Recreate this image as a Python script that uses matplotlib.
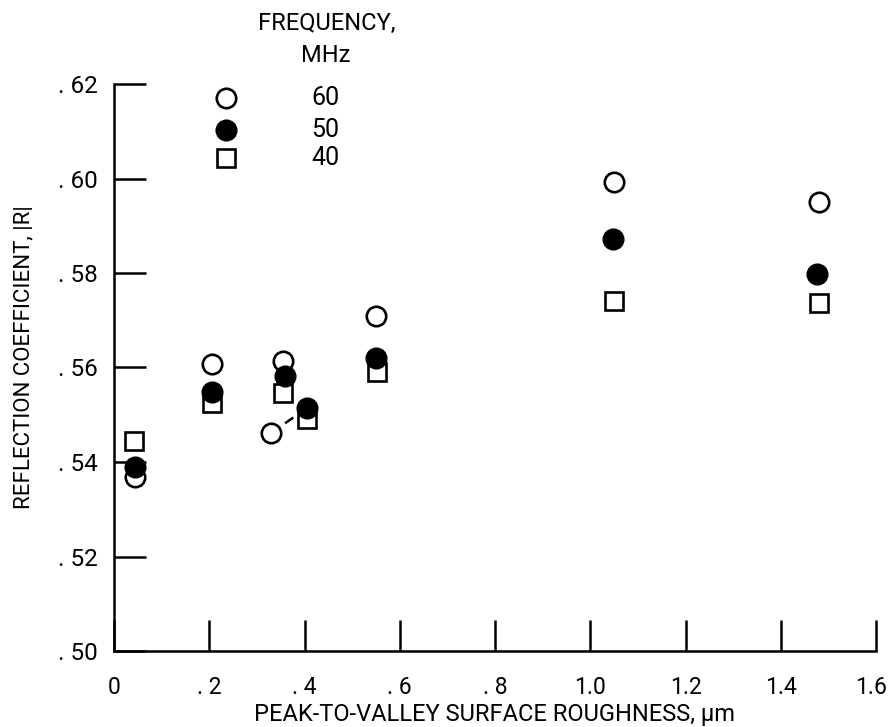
import matplotlib
matplotlib.use("Agg")
import matplotlib.pyplot as plt
import matplotlib.transforms as mtransforms

plt.rcParams['font.family'] = ['Roboto', 'DejaVu Sans']

# Data: peak-to-valley roughness (um) and reflection coefficient |R|
x_60 = [0.045, 0.205, 0.355, 0.550, 1.050, 1.480]
r_60 = [0.5368, 0.5607, 0.5614, 0.5709, 0.5993, 0.5950]
x_50 = [0.045, 0.205, 0.360, 0.405, 0.550, 1.048, 1.476]
r_50 = [0.5389, 0.5548, 0.5582, 0.5514, 0.5620, 0.5872, 0.5798]
x_40 = [0.043, 0.205, 0.355, 0.405, 0.552, 1.050, 1.480]
r_40 = [0.5444, 0.5525, 0.5546, 0.5491, 0.5590, 0.5741, 0.5737]
# 60 MHz point at 0.405 um, displaced for clarity with leader line
x_60_off = 0.329
r_60_off = 0.5461
x_60_true = 0.405
r_60_true = 0.5514

x_ticks = [0, 0.2, 0.4, 0.6, 0.8, 1.0, 1.2, 1.4, 1.6]
x_ticklabels = ['0', '. 2', '. 4', '. 6', '. 8', '1.0', '1.2', '1.4', '1.6']
y_ticks = [0.50, 0.52, 0.54, 0.56, 0.58, 0.60, 0.62]
y_ticklabels = ['. 50', '. 52', '. 54', '. 56', '. 58', '. 60', '. 62']

legend_labels = ['60', '50', '40']
legend_y = [0.6170, 0.6103, 0.6043]
legend_x = 0.235
legend_text_x = 0.443

fig = plt.figure(figsize=(8.89, 7.27), dpi=100)
ax = fig.add_axes([114/889, 1-651/727, (876-114)/889, (651-84)/727])
ax.set_xlim(0, 1.6)
ax.set_ylim(0.50, 0.62)

ms = 14
mew = 1.9
ax.plot(x_60, r_60, 'o', ms=ms, mfc='white', mec='black', mew=mew, clip_on=False, zorder=3)
ax.plot(x_50, r_50, 'o', ms=ms, mfc='black', mec='black', mew=mew, clip_on=False, zorder=4)
ax.plot(x_40, r_40, 's', ms=12.5, mfc='white', mec='black', mew=mew, clip_on=False, zorder=2)
ax.plot([x_60_off], [r_60_off], 'o', ms=ms, mfc='white', mec='black', mew=mew, zorder=3)
ax.plot([x_60_off, x_60_true], [r_60_off, r_60_true], color='black', lw=1.8,
        dashes=(4, 3), zorder=1)

# legend
ax.plot([legend_x], [legend_y[0]], 'o', ms=ms, mfc='white', mec='black', mew=mew, clip_on=False)
ax.plot([legend_x], [legend_y[1]], 'o', ms=ms, mfc='black', mec='black', mew=mew, clip_on=False)
ax.plot([legend_x], [legend_y[2]], 's', ms=12.5, mfc='white', mec='black', mew=mew, clip_on=False)
for lab, yy in zip(legend_labels, legend_y):
    ax.text(legend_text_x, yy, lab, ha='center', va='center', fontsize=18)
fig.text(327/889, 1-23/727, 'FREQUENCY,', ha='center', va='center', fontsize=17)
fig.text(326/889, 1-55/727, 'MHz', ha='center', va='center', fontsize=17)

for s in ['top', 'right']:
    ax.spines[s].set_visible(False)
for s in ['left', 'bottom']:
    ax.spines[s].set_linewidth(1.8)

ax.set_xticks(x_ticks)
ax.set_xticklabels(x_ticklabels, fontsize=16.5)
ax.set_yticks(y_ticks)
ax.set_yticklabels(y_ticklabels, fontsize=17.5)
ax.tick_params(axis='x', direction='in', length=22, width=1.8, pad=18)
ax.tick_params(axis='y', direction='in', length=23, width=1.8, pad=12)

# keep the last x tick label inside the figure edge
last = ax.get_xticklabels()[-1]
last.set_transform(last.get_transform() + mtransforms.ScaledTranslation(-5/100, 0, fig.dpi_scale_trans))

ax.set_xlabel('PEAK-TO-VALLEY SURFACE ROUGHNESS, μm', fontsize=17, va='center')
ax.xaxis.set_label_coords(0.5, (651-714)/567)
ax.set_ylabel('REFLECTION COEFFICIENT, |R|', fontsize=16, va='center')
ax.yaxis.set_label_coords((24-114)/762, (651-357)/567)

fig.savefig('out.png', dpi=100)
